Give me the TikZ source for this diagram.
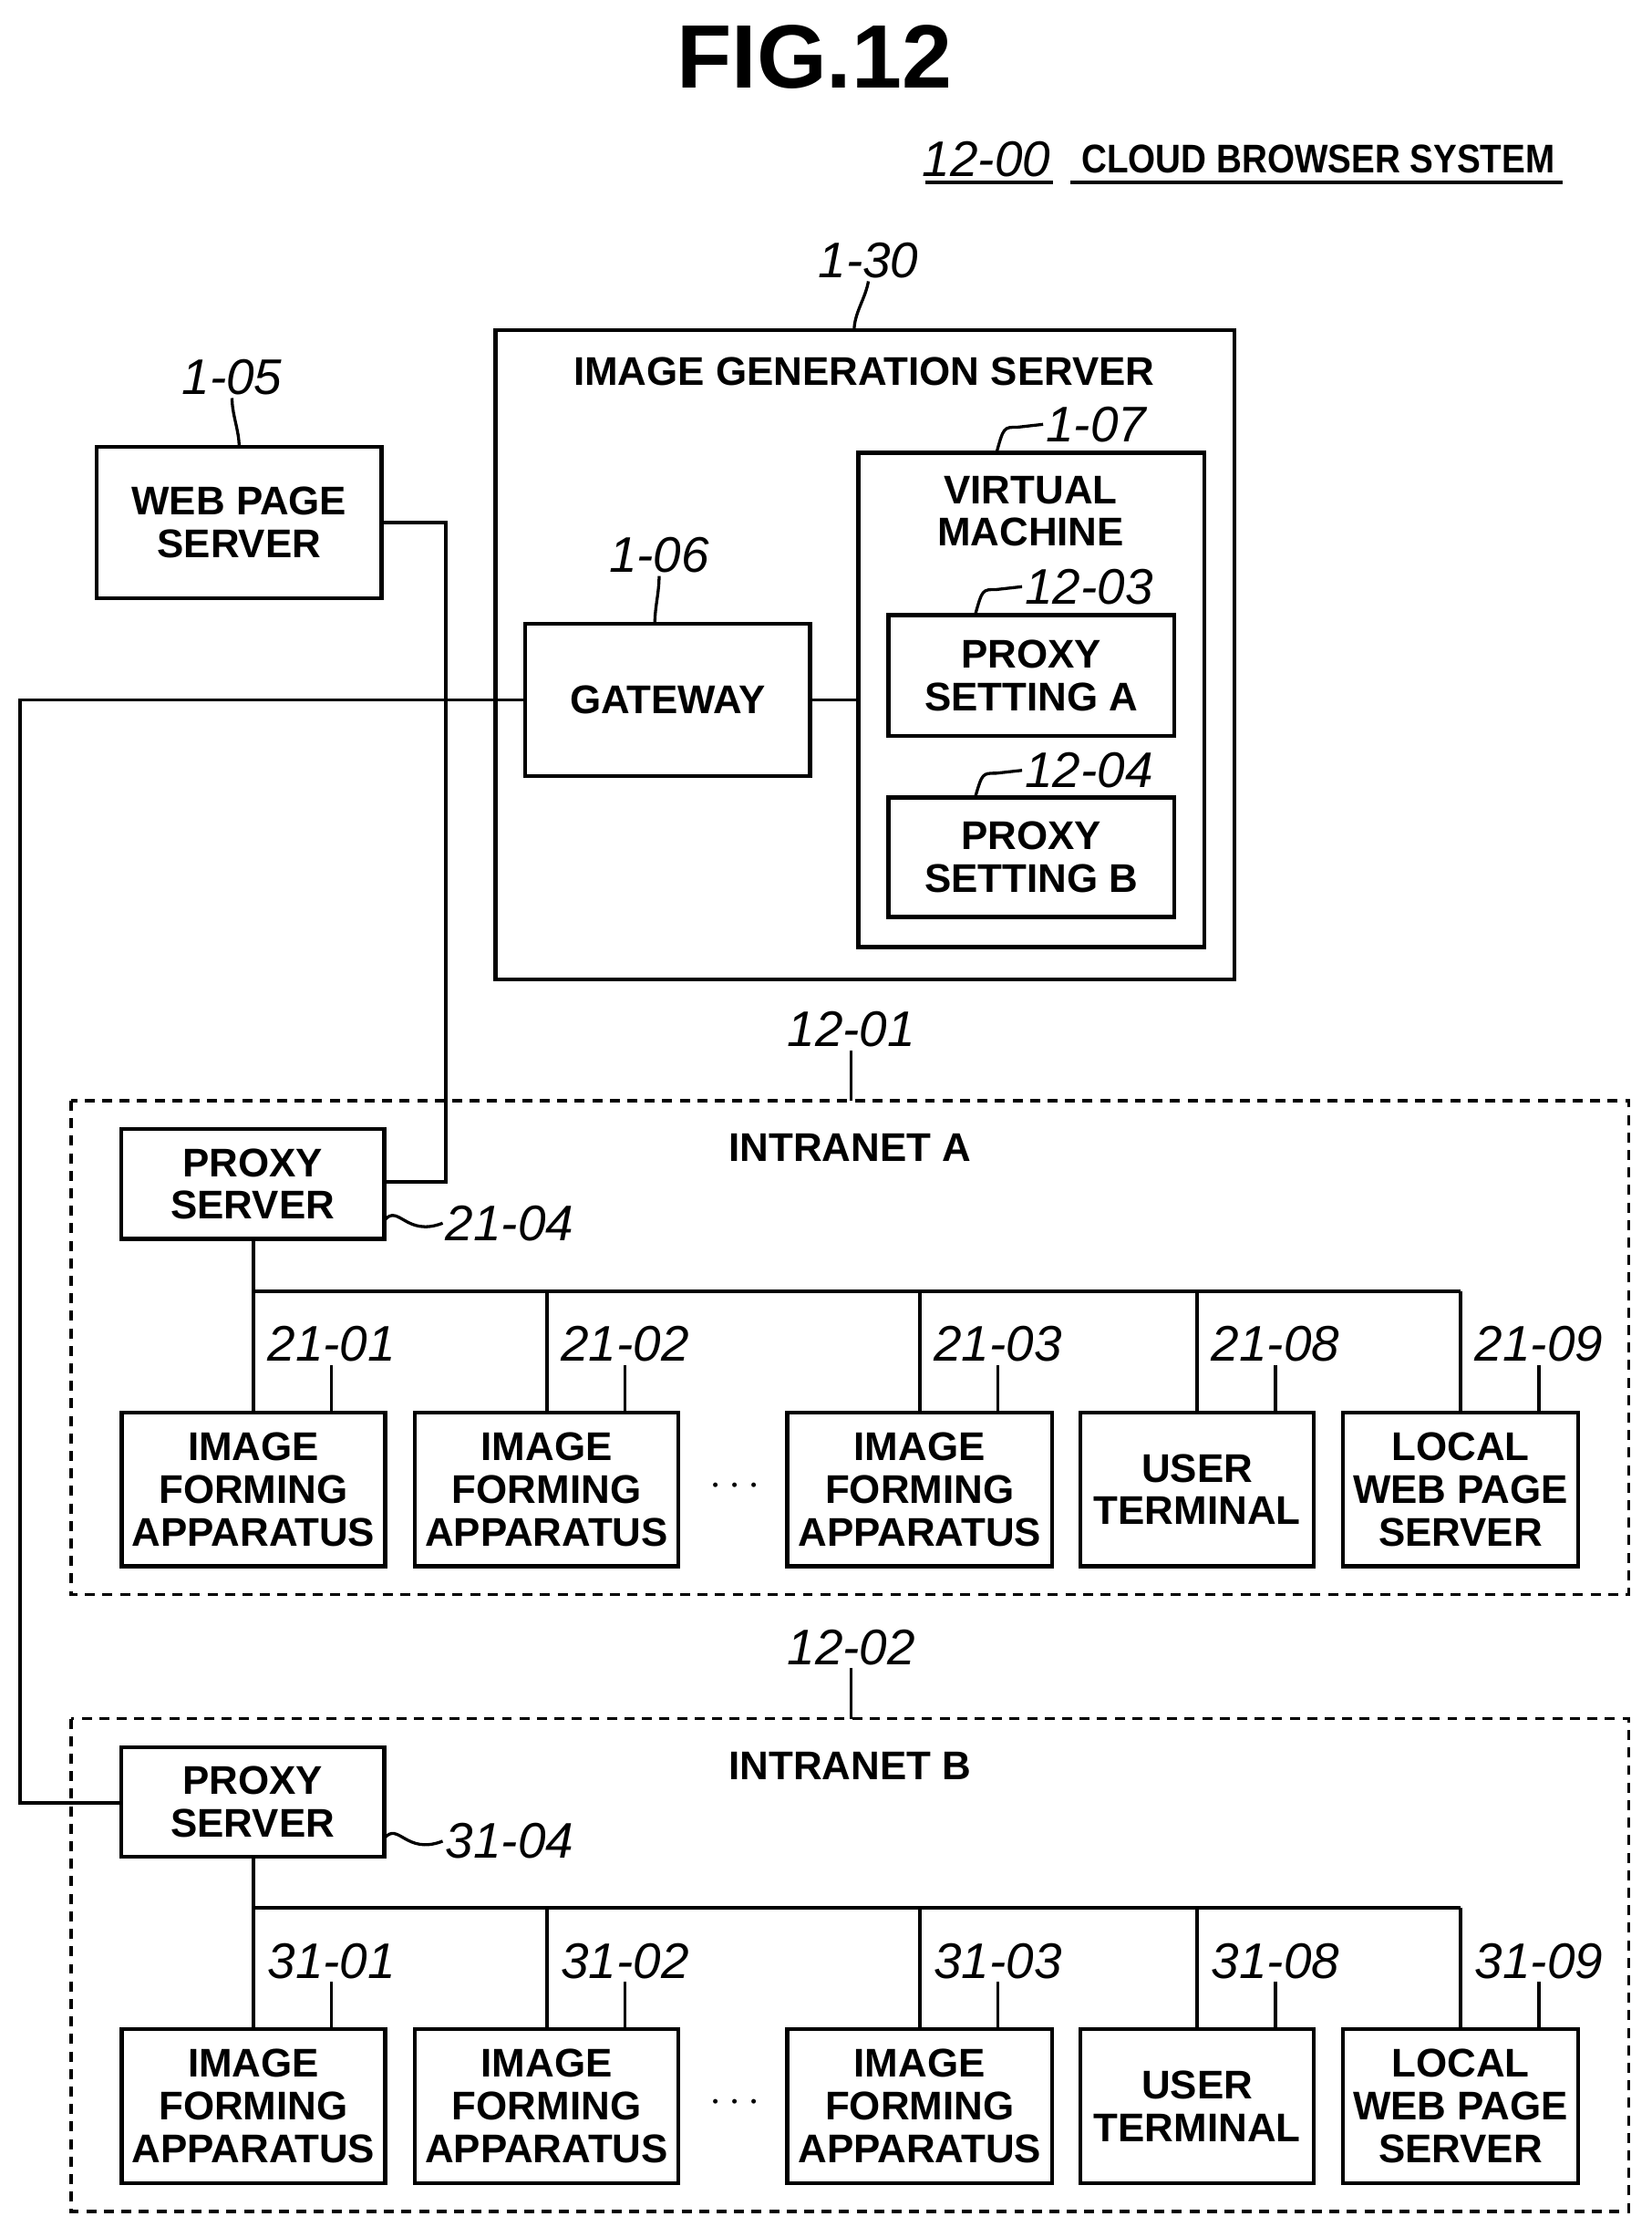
\documentclass[tikz,border=0pt]{standalone}
\usepackage{fontspec}
\setmainfont{Liberation Sans}
\begin{document}
\begin{tikzpicture}[x=0.02cm,y=-0.02cm,
 box/.style={draw,line width=1.6pt,align=center,font=\fontsize{16}{17}\selectfont\bfseries,inner sep=0pt},
 dbox/.style={draw,line width=1.2pt,dashed,dash pattern=on 4pt off 3pt},
 ref/.style={font=\fontsize{20}{22}\selectfont\itshape,inner sep=1pt},
 ttl/.style={font=\fontsize{16}{17}\selectfont\bfseries},
 ln/.style={line width=1.4pt},
 ld/.style={line width=1.2pt}]
\useasboundingbox (0,0) rectangle (1160,1571);
\node[font=\fontsize{36}{38}\selectfont\bfseries] (fig) at (572,40) {FIG.12};
\node[ref] (r1200) at (693,112) {12-00};
\draw[ld] (650,128) -- (740,128);
\node[font=\fontsize{16}{17}\selectfont\bfseries,xscale=0.88] (cbs) at (926,112) {CLOUD BROWSER SYSTEM};
\draw[ld] (752,128) -- (1098,128);
% image generation server
\node[box,minimum width=519*0.02cm,minimum height=456*0.02cm] (igs) at (607.5,460) {};
\node[ttl] (igst) at (607,261) {IMAGE GENERATION SERVER};
\node[ref] (r130) at (610,183) {1-30};
\draw[ld] (r130.south) .. controls +(-2,12) and +(0,-12) .. (600,232);
\node[box,minimum width=200*0.02cm,minimum height=106*0.02cm] (wps) at (168,367) {WEB PAGE\\SERVER};
\node[ref] (r105) at (163,265) {1-05};
\draw[ld] (r105.south) .. controls +(0,12) and +(0,-12) .. (168,314);
\node[box,minimum width=200*0.02cm,minimum height=107*0.02cm] (gw) at (469,491.5) {GATEWAY};
\node[ref] (r106) at (463,390) {1-06};
\draw[ld] (r106.south) .. controls +(0,12) and +(0,-12) .. (460,438);
\node[box,minimum width=243*0.02cm,minimum height=347*0.02cm] (vm) at (724.5,491.5) {};
\node[ttl,align=center] (vmt) at (724,359) {VIRTUAL\\MACHINE};
\node[ref] (r107) at (770,298) {1-07};
\draw[ld] (r107.west) -- (715,300) .. controls (705,300) .. (700,318);
\node[box,minimum width=201*0.02cm,minimum height=85*0.02cm] (pa) at (724.5,474.5) {PROXY\\SETTING A};
\node[ref] (r1203) at (765,412) {12-03};
\draw[ld] (r1203.west) -- (700,414) .. controls (690,414) .. (685,432);
\node[box,minimum width=201*0.02cm,minimum height=84*0.02cm] (pb) at (724.5,602) {PROXY\\SETTING B};
\node[ref] (r1204) at (765,541) {12-04};
\draw[ld] (r1204.west) -- (700,543) .. controls (690,543) .. (685,560);
\draw[ln] (gw.east) -- (vm.west);
% intranets
\foreach \n/\yt/\yb/\lab/\rr/\pr/\bus/\byt/\p in {A/773/1120/12-01/21/0/907/992/0, B/1207/1553/12-02/31/0/1340/1425/1}{
 \draw[dbox] (50,\yt) rectangle (1144,\yb);
 \node[ttl] (it\n) at (597,\yt+33) {INTRANET \n};
 \node[ref] (ri\n) at (598,\yt-50) {\lab};
 \draw[ld] (ri\n.south) .. controls +(0,12) and +(0,-12) .. (598,\yt);
 \node[box,minimum width=185*0.02cm,minimum height=77*0.02cm] (ps\n) at (177.5,\yt+58.5) {PROXY\\SERVER};
 \node[ref] (rps\n) at (358,\yt+86) {\rr-04};
 \draw[ld] (270,\yt+84) .. controls (280,\yt+72) and (285,\yt+96) .. (rps\n.west);
 \draw[ln] (178,\yt+97) -- (178,\bus) -- (1026,\bus);
 \foreach \cx/\w/\t/\k in {178/185/{IMAGE\\FORMING\\APPARATUS}/01, 384/185/{IMAGE\\FORMING\\APPARATUS}/02, 646/186/{IMAGE\\FORMING\\APPARATUS}/03, 841/164/{USER\\TERMINAL}/08, 1026/165/{LOCAL\\WEB PAGE\\SERVER}/09}{
  \node[box,minimum width=\w*0.02cm,minimum height=108*0.02cm] (b\n\k) at (\cx,\byt+54) {\t};
  \draw[ln] (\cx,\bus) -- (b\n\k.north);
  \node[ref] (rb\n\k) at (\cx+55,\byt-48) {\rr-\k};
  \draw[ld] (rb\n\k.south) .. controls +(0,12) and +(0,-12) .. (\cx+55,\byt);
 }
 \node[font=\fontsize{16}{17}\selectfont\bfseries] (dots\n) at (516,\byt+52) {$\cdots$};
}
\draw[ln] (wps.east) -- (313,367) -- (313,830) -- (psA.east |- 0,830);
\draw[ln] (gw.west) -- (14,491.5) -- (14,1266) -- (psB.west |- 0,1266);
\end{tikzpicture}
\end{document}
